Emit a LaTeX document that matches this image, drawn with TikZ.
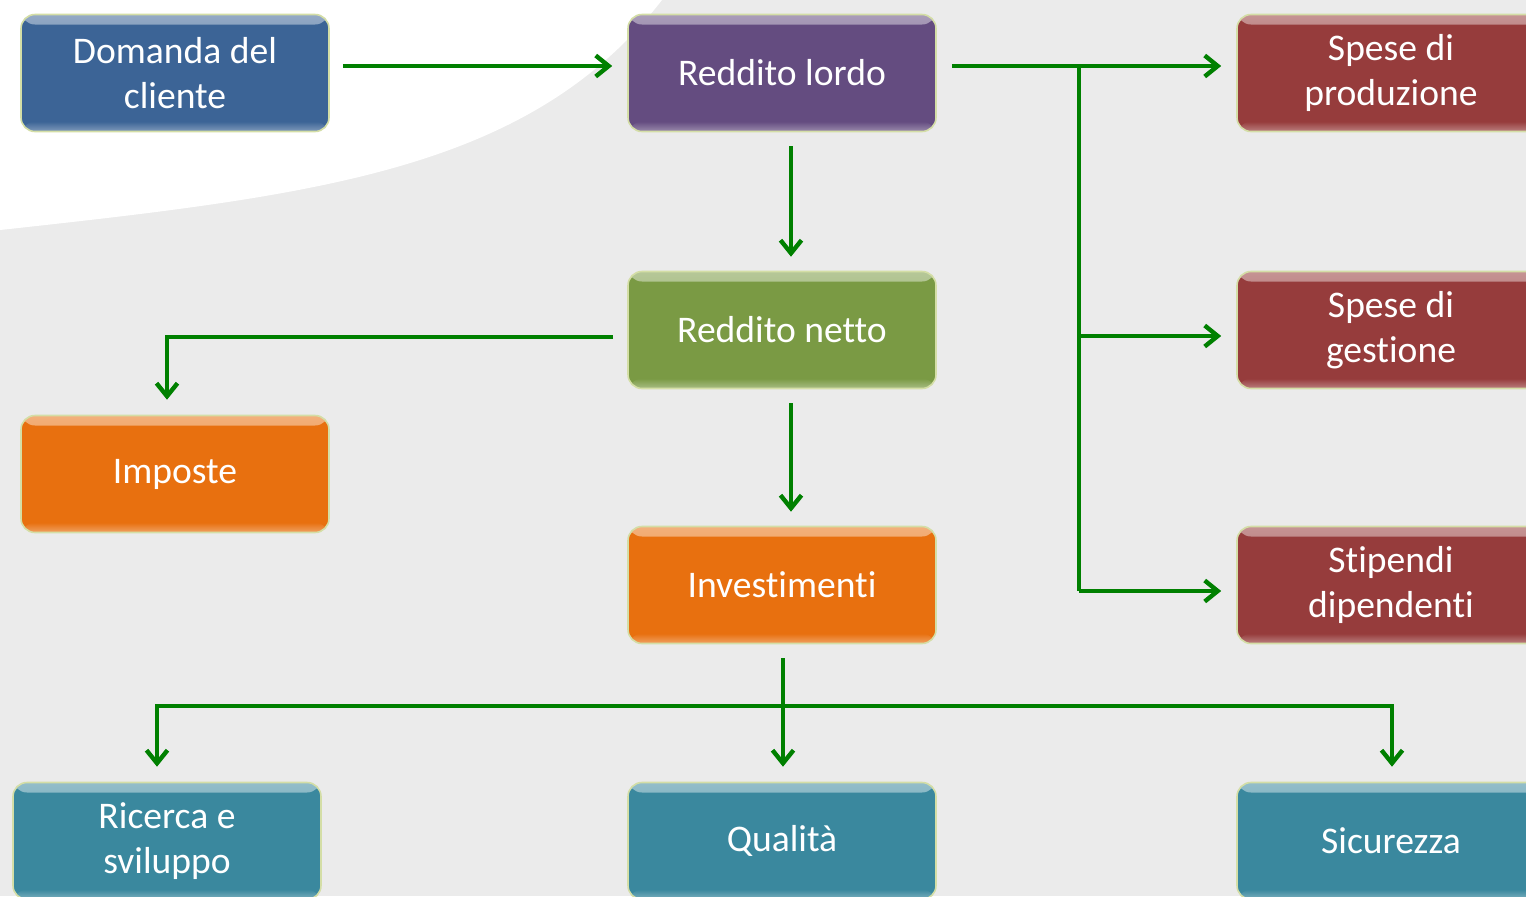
\documentclass[tikz,border=0pt]{standalone}
\usepackage{fontspec}
\setmainfont{Carlito}[Ligatures={NoCommon}]
\usetikzlibrary{arrows.meta}
\definecolor{bg}{HTML}{EBEBEB}
\definecolor{flow}{HTML}{008000}
\definecolor{edge}{HTML}{D4DEA6}
\definecolor{cblue}{HTML}{3C6496}
\definecolor{cpurple}{HTML}{644C80}
\definecolor{cred}{HTML}{963C3C}
\definecolor{cgreen}{HTML}{7A9A44}
\definecolor{corange}{HTML}{E8700F}
\definecolor{cteal}{HTML}{3A889E}
\tikzset{
  box/.style={rounded corners=7pt, minimum width=154pt, minimum height=58.5pt,
    draw=edge, line width=0.8pt, text=white, align=center,
    font=\fontsize{18.8}{22.5}\selectfont, fill=#1,
    path picture={
      \fill[top color=#1!55!white, bottom color=#1]
        (path picture bounding box.north west) rectangle ([yshift=-5pt]path picture bounding box.north east);
      \fill[top color=#1, bottom color=#1!65!white]
        ([yshift=5pt]path picture bounding box.south west) rectangle (path picture bounding box.south east);
    }},
  arr/.style={draw=flow, line width=2.2pt, -{Straight Barb[length=6.5pt,width=10.5pt]}},
  link/.style={draw=flow, line width=2.2pt}
}
\begin{document}
\begin{tikzpicture}[x=0.5pt,y=-0.5pt]
  % canvas and light backdrop
  \fill[bg] (0,0) rectangle (1526,896);
  \useasboundingbox (0,0) rectangle (1526,896);
  \fill[white] (0,0) -- (0,230) .. controls (320,195) and (530,170) .. (662,0) -- cycle;

  % boxes
  \node[box=cblue]   (dom)  at (175,73)   {Domanda del\\cliente};
  \node[box=cpurple] (lor)  at (782,73)   {Reddito lordo};
  \node[box=cred]    (sp1)  at (1391,73)  {Spese di\\produzione};
  \node[box=cgreen]  (net)  at (782,330)  {Reddito netto};
  \node[box=cred]    (sp2)  at (1391,330) {Spese di\\gestione};
  \node[box=corange] (imp)  at (175,474)  {Imposte};
  \node[box=corange] (inv)  at (782,585)  {Investimenti};
  \node[box=cred]    (sti)  at (1391,585) {Stipendi\\dipendenti};
  \node[box=cteal]   (ric)  at (167,841)  {Ricerca e\\sviluppo};
  \node[box=cteal]   (qua)  at (782,841)  {Qualità};
  \node[box=cteal]   (sic)  at (1391,841) {Sicurezza};

  % junction points of the branching lines
  \coordinate (jr) at (1079,66);
  \coordinate (jl) at (167,337);
  \coordinate (jb) at (783,706);

  % connectors
  \draw[arr, shorten <=6.5pt, shorten >=7.5pt] ([yshift=3.5pt]dom.east) -- ([yshift=3.5pt]lor.west);
  \draw[arr, shorten <=7.5pt, shorten >=7.5pt] ([yshift=3.5pt]lor.east) -- ([yshift=3.5pt]sp1.west);
  \draw[link] (jr) -- (1079,591);
  \draw[arr, shorten >=7.5pt] (jr |- 0,336) -- ([yshift=-3pt]sp2.west);
  \draw[arr, shorten >=7.5pt] (jr |- 0,591) -- ([yshift=-3pt]sti.west);
  \draw[arr, shorten <=7pt, shorten >=7pt] (lor.south -| 791,0) -- (net.north -| 791,0);
  \draw[arr, shorten <=7pt, shorten >=7pt] (net.south -| 791,0) -- (inv.north -| 791,0);
  \draw[arr, shorten <=7pt, shorten >=7.5pt] ([yshift=-3.5pt]net.west) -- (jl) -- (imp.north -| jl);
  \draw[arr, shorten <=7pt, shorten >=7.5pt] (inv.south -| jb) -- (qua.north -| jb);
  \draw[arr, shorten >=7.5pt] (jb) -| (ric.north -| 157,0);
  \draw[arr, shorten >=7.5pt] (jb) -| (sic.north -| 1392,0);
\end{tikzpicture}
\end{document}
